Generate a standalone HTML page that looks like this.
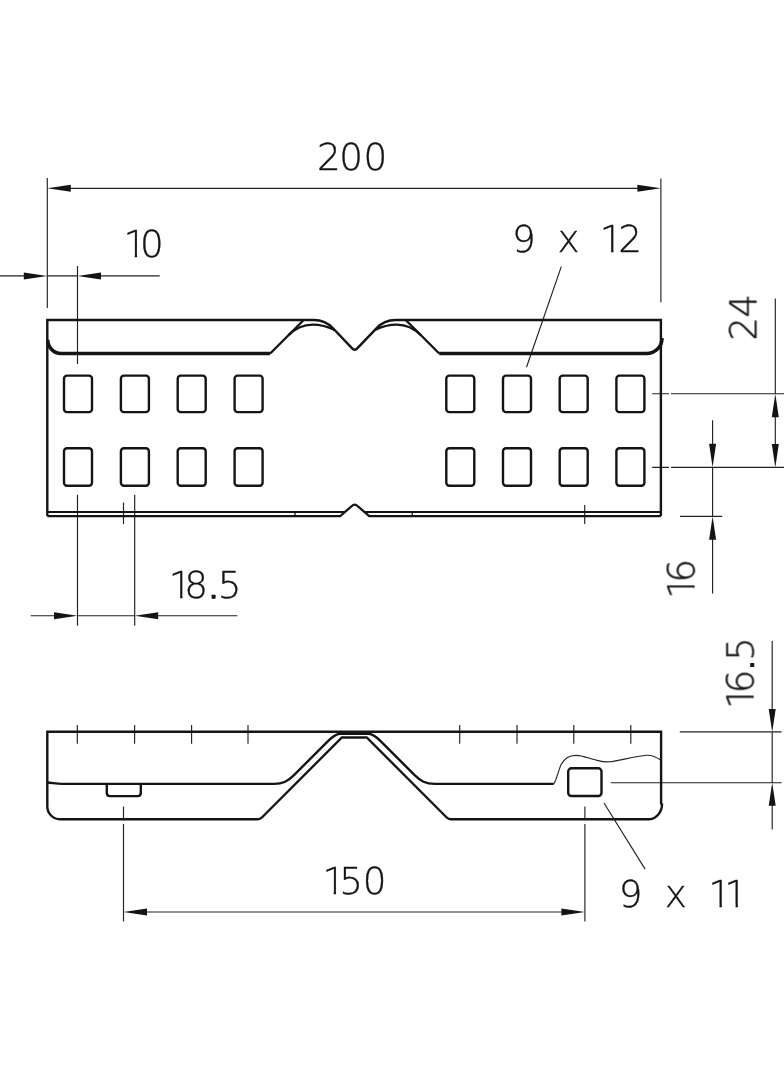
<!DOCTYPE html>
<html lang="en">
<head>
<meta charset="utf-8">
<title>Connector dimension drawing</title>
<style>
html,body{margin:0;padding:0;background:#fff;}
body{width:784px;height:1066px;overflow:hidden;}
svg{display:block;}
.thick{fill:none;stroke:#141414;stroke-width:2.4;stroke-linecap:butt;stroke-linejoin:miter;}
.fold{fill:none;stroke:#141414;stroke-width:3.6;stroke-linejoin:round;}
.thin{fill:none;stroke:#222;stroke-width:1.15;}
.arrows polygon,.arrows rect{fill:#141414;stroke:none;}
.dim{opacity:0.999;}
.dim text{font-family:"DejaVu Sans Light","DejaVu Sans","Liberation Sans",sans-serif;font-weight:200;font-size:37.3px;fill:#141414;stroke:#141414;stroke-width:0.35px;stroke-linejoin:round;}
</style>
</head>
<body>
<svg width="784" height="1066" viewBox="0 0 784 1066">
<rect x="0" y="0" width="784" height="1066" fill="#ffffff"/>
<defs>
<clipPath id="c0"><rect x="117.4" y="-40" width="62.5" height="37.45"/><rect x="117.4" y="-2.6" width="10.6" height="12"/><rect x="143.8" y="-2.6" width="36.1" height="12"/><rect x="134.73" y="-2.6" width="2.32" height="12"/></clipPath>
<clipPath id="c1"><rect x="506.1" y="-40" width="152.1" height="37.45"/><rect x="506.1" y="-2.6" width="98.3" height="12"/><rect x="620.2" y="-2.6" width="38" height="12"/><rect x="611.13" y="-2.6" width="2.32" height="12"/></clipPath>
<clipPath id="c2"><rect x="162.8" y="-40" width="95" height="37.45"/><rect x="162.8" y="-2.6" width="10.6" height="12"/><rect x="189.2" y="-2.6" width="68.6" height="12"/><rect x="180.13" y="-2.6" width="2.32" height="12"/></clipPath>
<clipPath id="c3"><rect x="316.4" y="-40" width="86.4" height="37.45"/><rect x="316.4" y="-2.6" width="10.6" height="12"/><rect x="342.8" y="-2.6" width="60" height="12"/><rect x="333.73" y="-2.6" width="2.32" height="12"/></clipPath>
<clipPath id="c4"><rect x="612.8" y="-40" width="151.5" height="37.45"/><rect x="612.8" y="-2.6" width="99.9" height="12"/><rect x="728.6" y="-2.6" width="0.3" height="12"/><rect x="744.7" y="-2.6" width="19.6" height="12"/><rect x="719.53" y="-2.6" width="2.32" height="12"/><rect x="735.63" y="-2.6" width="2.32" height="12"/></clipPath>
<clipPath id="c5"><rect x="-10.6" y="-40" width="62.3" height="37.45"/><rect x="-10.6" y="-2.6" width="10.6" height="12"/><rect x="15.8" y="-2.6" width="35.9" height="12"/><rect x="6.73" y="-2.6" width="2.32" height="12"/></clipPath>
<clipPath id="c6"><rect x="-9.9" y="-40" width="94.5" height="37.45"/><rect x="-9.9" y="-2.6" width="10.6" height="12"/><rect x="16.5" y="-2.6" width="68.1" height="12"/><rect x="7.43" y="-2.6" width="2.32" height="12"/></clipPath>
</defs>

<!-- dimension text -->
<g class="dim">
<text transform="translate(0,170.1)" x="317.01 339.25 363.45" y="0">200</text>
<text transform="translate(0,256.9)" x="123.43 139.9" y="0" clip-path="url(#c0)">10</text>
<text transform="translate(0,252.4)" x="512.09 535.82 557.61 579.69 599.83 618.21" y="0" clip-path="url(#c1)">9 x 12</text>
<text transform="translate(0,597.9)" x="168.83 184.34 207.58 217.87" y="0" clip-path="url(#c2)">18.5</text>
<text transform="translate(0,894)" x="322.43 339.37 362.8" y="0" clip-path="url(#c3)">150</text>
<text transform="translate(0,907.3)" x="618.84 642.57 664.81 686.89 708.23 724.33" y="0" clip-path="url(#c4)">9 x 11</text>
<text transform="translate(756.4,338.2) rotate(-90)" x="-2.49 20.52" y="0">24</text>
<text transform="translate(694.3,594.4) rotate(-90)" x="-4.57 11.74" y="0" clip-path="url(#c5)">16</text>
<text transform="translate(753.4,705.4) rotate(-90)" x="-3.87 11.99 34.53 44.62" y="0" clip-path="url(#c6)">16.5</text>
</g>

<!-- thin: extension, dimension and leader lines -->
<g class="thin">
<path d="M47.3 178V308M660.9 178.4V302.2M70 188.3H638"/>
<path d="M0 275.9H24M47.3 275.9H77.5M101 275.9H159.7M77.5 266V364"/>
<path d="M561.3 266.6L526.5 367.2"/>
<path d="M652.2 393.7H669M671 393.7H784M652.2 467.3H669M671 467.3H784"/>
<path d="M775.3 298.4V393.7M775.3 416V444"/>
<path d="M712.6 420.3V444M712.6 467.3V516.3M712.6 539V593.6M680 516.3H722.2"/>
<path d="M77.5 494.8V625.7M134.7 494.8V625.7M123.5 502.4V523.9M584.7 505V523.9"/>
<path d="M30.7 615.7H54M77.5 615.7H134.7M158 615.7H237.4"/>
<path d="M77.3 725V743.8M134.6 725V743.8M191.6 725V743.8M248 725V743.8M459.7 725V743.8M517 725V743.8M573.8 725V743.8M630.8 725V743.8"/>
<path d="M772.2 641V709M772.2 731.9V782.8M772.2 805V829.4M679.8 731.9H781.6M610.8 782.7H781.6"/>
<path d="M123.5 806.4V820.3M123.5 824V921.4M584.9 806.4V818.6M584.9 824V921.4M147 912H562"/>
<path d="M604 803L645.1 869.1"/>
<path d="M553.7 783.9C556.2 781 558 772 560.8 765.1C563.5 759.5 569 755.3 576.1 755.3C583 755.3 588 758.2 595 759.8C602 761.6 604 762.4 610 761.8C618 761 636 756 646.5 755.3C652 755 657 757.5 661 760.3"/>
</g>

<!-- thick: top view -->
<g class="thick">
<path d="M47.3 516.1V320H314A26 26 0 0 1 333 328.3L351.9 348.1Q354.7 351.4 357.5 348.1L376.4 328.3A26 26 0 0 1 395.4 320H660.9V516.1"/>
<path d="M270.2 353.5L303.7 320M439.2 353.5L405.7 320"/>
<path d="M288.5 335.2C296.5 327.2 304.5 324.6 312.5 324.6C320.5 324.6 327.5 326.4 334.5 330M420.9 335.2C412.9 327.2 404.9 324.6 396.9 324.6C388.9 324.6 381.9 326.4 374.9 330"/>
<path d="M47.3 516.1H340.2L351.7 506.2Q354.7 503 357.7 506.2L369.2 516.1H660.9" style="stroke-width:2.2"/>
<path d="M47.3 512H344.7M364.7 512H660.9" style="stroke-width:2"/>
<path d="M295 512V516.1M412.2 512V516.1" style="stroke-width:1.3"/>
<rect x="64" y="375.65" width="28" height="36.5" rx="3" ry="3"/>
<rect x="120.9" y="375.65" width="28" height="36.5" rx="3" ry="3"/>
<rect x="177.7" y="375.65" width="28" height="36.5" rx="3" ry="3"/>
<rect x="234.6" y="375.65" width="28" height="36.5" rx="3" ry="3"/>
<rect x="446.3" y="375.65" width="28" height="36.5" rx="3" ry="3"/>
<rect x="503" y="375.65" width="28" height="36.5" rx="3" ry="3"/>
<rect x="559.7" y="375.65" width="28" height="36.5" rx="3" ry="3"/>
<rect x="616.4" y="375.65" width="28" height="36.5" rx="3" ry="3"/>
<rect x="64" y="448.2" width="28" height="37.5" rx="3" ry="3"/>
<rect x="120.9" y="448.2" width="28" height="37.5" rx="3" ry="3"/>
<rect x="177.7" y="448.2" width="28" height="37.5" rx="3" ry="3"/>
<rect x="234.6" y="448.2" width="28" height="37.5" rx="3" ry="3"/>
<rect x="446.3" y="448.2" width="28" height="37.5" rx="3" ry="3"/>
<rect x="503" y="448.2" width="28" height="37.5" rx="3" ry="3"/>
<rect x="559.7" y="448.2" width="28" height="37.5" rx="3" ry="3"/>
<rect x="616.4" y="448.2" width="28" height="37.5" rx="3" ry="3"/>
</g>
<g class="fold">
<path d="M47.7 339.7A13.4 13.8 0 0 0 61.1 353.5H270.2M439.2 353.5H646.5C655 353.5 662.3 346.7 661.9 338.2"/>
</g>

<!-- thick: side view -->
<g class="thick">
<path d="M661.1 804.5V731.7H47.3V806.5A12.7 12.7 0 0 0 60 819.2H257.8Q260.2 819.2 261.9 817.5L341.9 737.5H366.7L446.7 817.5Q448.4 819.2 450.8 819.2H649.5C656 819.2 662.3 812 662 803.5"/>
<path d="M47.3 782.5C52 782.7 56 783.9 62 783.9H274C283 783.9 288 781 294 775.1L328 741.1C332 737.1 335 734.3 340 733.8H368.6C373.6 734.3 376.6 737.1 380.6 741.1L414.6 775.1C420.6 781 425.6 783.9 434.6 783.9H553.7"/>
<path d="M106.8 783.9V793.1Q106.8 796.1 109.8 796.1H137.8Q140.8 796.1 140.8 793.1V783.9"/>
<rect x="568.2" y="768.3" width="33.3" height="27.7" rx="3.2" ry="3.2"/>
</g>

<g class="arrows">
<rect x="211.6" y="594.7" width="4" height="4" rx="0.6"/>
<rect x="750.2" y="663" width="4" height="4" rx="0.6"/>
<polygon points="47.3,188.3 70.8,184.8 70.8,191.8"/>
<polygon points="660.9,188.3 637.4,184.8 637.4,191.8"/>
<polygon points="47.3,275.9 23.8,272.4 23.8,279.4"/>
<polygon points="77.5,275.9 101,272.4 101,279.4"/>
<polygon points="77.5,615.7 54,612.2 54,619.2"/>
<polygon points="134.7,615.7 158.2,612.2 158.2,619.2"/>
<polygon points="775.3,393.8 771.8,417.3 778.8,417.3"/>
<polygon points="775.3,467.4 771.8,443.9 778.8,443.9"/>
<polygon points="712.6,467.3 709.1,443.8 716.1,443.8"/>
<polygon points="712.6,516.3 709.1,539.8 716.1,539.8"/>
<polygon points="772.2,731.9 768.7,708.9 775.7,708.9"/>
<polygon points="772.2,782.8 768.7,805.8 775.7,805.8"/>
<polygon points="123.5,912 147,908.5 147,915.5"/>
<polygon points="584.9,912 561.4,908.5 561.4,915.5"/>
</g>
</svg>
</body>
</html>
